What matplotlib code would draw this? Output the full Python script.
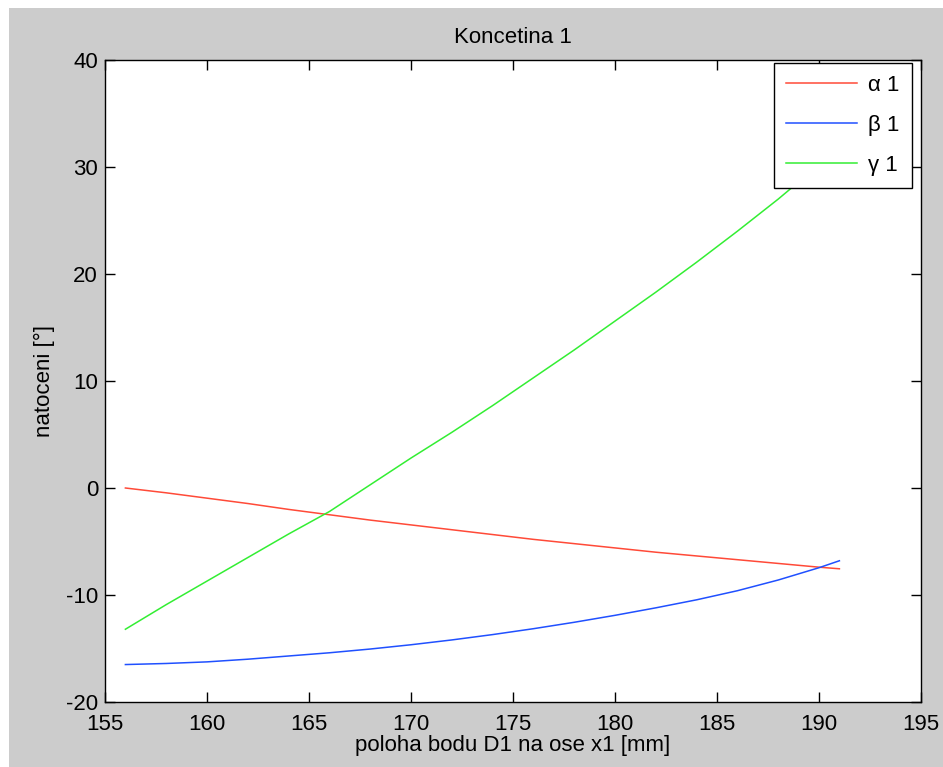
import matplotlib
matplotlib.use("Agg")
import matplotlib.pyplot as plt
from matplotlib.patches import Rectangle

plt.rcParams['font.family'] = ['Liberation Sans', 'DejaVu Sans']
plt.rcParams['axes.unicode_minus'] = False

# Data
x_mm = [156, 158, 160, 162, 164, 166, 168, 170, 172, 174, 176, 178, 180, 182, 184, 186, 188, 190, 191]
alpha1 = [0.0, -0.45, -0.95, -1.45, -2.0, -2.5, -3.0, -3.45, -3.9, -4.35, -4.8, -5.2, -5.6, -6.0, -6.35, -6.7, -7.05, -7.4, -7.55]
beta1 = [-16.5, -16.4, -16.25, -16.0, -15.7, -15.4, -15.05, -14.65, -14.2, -13.7, -13.15, -12.55, -11.9, -11.2, -10.45, -9.6, -8.6, -7.45, -6.8]
gamma1 = [-13.2, -10.9, -8.7, -6.5, -4.3, -2.2, 0.3, 2.8, 5.2, 7.7, 10.3, 12.9, 15.6, 18.3, 21.1, 24.0, 27.0, 30.2, 31.8]

labels = ['α 1', 'β 1', 'γ 1']
colors = ['#ff4a38', '#2050ff', '#33ee33']
xticks = [155, 160, 165, 170, 175, 180, 185, 190, 195]
yticks = [-20, -10, 0, 10, 20, 30, 40]

W, H = 943, 767
fig = plt.figure(figsize=(W / 100, H / 100), dpi=100, facecolor='white')
fig.patches.append(Rectangle((9 / W, 0), 1 - 9 / W, 1 - 8 / H, transform=fig.transFigure,
                             facecolor='#cccccc', edgecolor='none', zorder=-10))

ax = fig.add_axes([105 / W, 1 - 702 / H, (921 - 105) / W, (702 - 60) / H])
ax.set_facecolor('white')
for ys, c, lab in zip([alpha1, beta1, gamma1], colors, labels):
    ax.plot(x_mm, ys, color=c, lw=1.1, label=lab)

ax.set_xlim(155, 195)
ax.set_ylim(-20, 40)
ax.set_xticks(xticks)
ax.set_yticks(yticks)
ax.tick_params(direction='in', length=7, width=1, top=True, right=True,
               labelsize=16, colors='black')
ax.tick_params(axis='x', pad=9)
ax.tick_params(axis='y', pad=5)
for s in ax.spines.values():
    s.set_linewidth(1.0)
    s.set_color('black')

ax.set_title('Koncetina 1', fontsize=16, pad=12)
ax.set_xlabel('poloha bodu D1 na ose x1 [mm]', fontsize=16, labelpad=0)
ax.set_ylabel('natoceni [°]', fontsize=16, labelpad=8)

leg = ax.legend(loc='upper right', bbox_to_anchor=(912 / W, 1 - 63 / H),
                bbox_transform=fig.transFigure, fontsize=16, frameon=True,
                fancybox=False, handlelength=3.2, handletextpad=0.5,
                labelspacing=0.85, borderpad=0.55, borderaxespad=0)
leg.get_frame().set_edgecolor('black')
leg.get_frame().set_linewidth(1.0)
leg.get_frame().set_alpha(1)

fig.savefig('out.png', dpi=100, facecolor=fig.get_facecolor())
